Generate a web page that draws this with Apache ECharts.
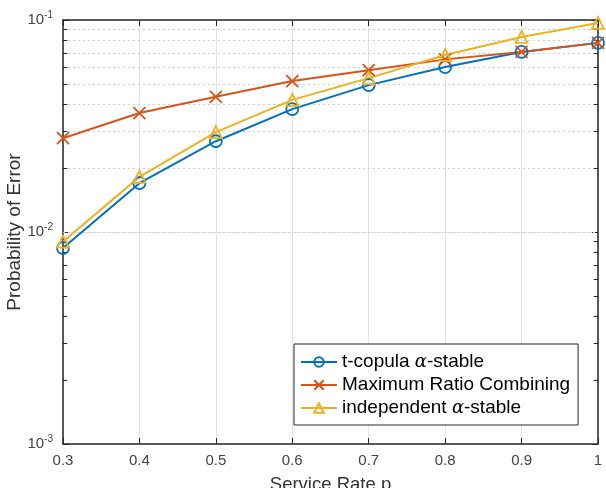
<!DOCTYPE html>
<html>
<head>
<meta charset="utf-8">
<script src="https://cdn.jsdelivr.net/npm/echarts@6/dist/echarts.min.js"></script>
<style>
  html, body { margin: 0; padding: 0; background: #fff; }
  #chart { width: 606px; height: 488px; }
</style>
</head>
<body>
<div id="chart"></div>
<script>
const serviceRate = [0.3, 0.4, 0.5, 0.6, 0.7, 0.8, 0.9, 1.0];
const tCopula = [0.0084, 0.0170, 0.0268, 0.0380, 0.0493, 0.0600, 0.0707, 0.0780];
const mrc = [0.0277, 0.0364, 0.0434, 0.0515, 0.0580, 0.0652, 0.0707, 0.0780];
const independent = [0.0090, 0.0182, 0.0296, 0.0420, 0.0532, 0.0684, 0.0832, 0.0969];
const minorValues = [0.002, 0.003, 0.004, 0.005, 0.006, 0.007, 0.008, 0.009,
                     0.02, 0.03, 0.04, 0.05, 0.06, 0.07, 0.08, 0.09];
const seriesNames = ['t-copula α-stable', 'Maximum Ratio Combining', 'independent α-stable'];

const chart = echarts.init(document.getElementById('chart'));
const font = 'Liberation Sans, Arial, sans-serif';
const axisColor = '#262626';

function pairs(ys) {
    return serviceRate.map((x, i) => [x, ys[i]]);
}

function mkSeries(name, ys, color, symbol) {
    return {
        name: name,
        type: 'line',
        data: pairs(ys),
        symbol: symbol,
        symbolSize: 12,
        z: 5,
        lineStyle: { color: color, width: 2 },
        itemStyle: { color: 'rgba(255,255,255,0)', borderColor: color, borderWidth: 1.8 },
        emphasis: { disabled: true }
    };
}

const option = {
    animation: false,
    grid: { left: 63, right: 8, top: 20, bottom: 44, containLabel: false, outerBoundsMode: 'none' },
    legend: {
        data: seriesNames,
        orient: 'vertical',
        left: 294,
        top: 344,
        padding: [7, 8, 6, 6],
        itemGap: 1,
        itemWidth: 36,
        itemHeight: 12,
        backgroundColor: '#fff',
        borderColor: axisColor,
        borderWidth: 1,
        selectedMode: false,
        formatter: name => name.replace('α', '{a|α}'),
        textStyle: {
            fontFamily: font,
            fontSize: 19,
            color: '#000',
            lineHeight: 22,
            rich: {
                a: { fontFamily: 'DejaVu Serif, serif', fontStyle: 'italic', fontSize: 18, color: '#000' }
            }
        }
    },
    xAxis: [{
        type: 'value',
        min: 0.3,
        max: 1,
        interval: 0.1,
        name: 'Service Rate p',
        nameLocation: 'middle',
        nameGap: 31,
        nameMoveOverlap: false,
        nameTextStyle: { fontFamily: font, fontSize: 18.5, color: '#333' },
        axisLine: { onZero: false, lineStyle: { color: axisColor, width: 1.5 } },
        axisTick: { inside: true, length: 6, lineStyle: { color: axisColor } },
        axisLabel: { fontFamily: font, fontSize: 15, color: '#444', margin: 9,
                     formatter: v => String(Math.round(v * 10) / 10) },
        splitLine: { show: true, lineStyle: { color: '#e3e3e3', width: 1 } }
    }, {
        type: 'value',
        position: 'top',
        min: 0.3,
        max: 1,
        interval: 0.1,
        axisLine: { onZero: false, lineStyle: { color: axisColor, width: 1.5 } },
        axisTick: { inside: true, length: 6, lineStyle: { color: axisColor } },
        axisLabel: { show: false },
        splitLine: { show: false }
    }],
    yAxis: [{
        type: 'log',
        logBase: 10,
        min: 0.001,
        max: 0.1,
        name: 'Probability of Error',
        nameLocation: 'middle',
        nameGap: 39,
        nameMoveOverlap: false,
        nameTextStyle: { fontFamily: font, fontSize: 19, color: '#333' },
        axisLine: { onZero: false, lineStyle: { color: axisColor, width: 1.5 } },
        axisTick: { inside: true, length: 6, lineStyle: { color: axisColor } },
        axisLabel: {
            margin: 10,
            formatter: v => '{b|10}{s|' + Math.round(Math.log10(v)) + '}',
            rich: {
                b: { fontFamily: font, fontSize: 15, color: '#444', lineHeight: 20 },
                s: { fontFamily: font, fontSize: 10, color: '#444', verticalAlign: 'top', lineHeight: 20 }
            }
        },
        splitLine: { show: true, lineStyle: { color: '#e3e3e3', width: 1 } }
    }, {
        type: 'log',
        logBase: 10,
        min: 0.001,
        max: 0.1,
        position: 'right',
        axisLine: { onZero: false, lineStyle: { color: axisColor, width: 1.5 } },
        axisTick: { inside: true, length: 6, lineStyle: { color: axisColor } },
        axisLabel: { show: false },
        splitLine: { show: false }
    }],
    series: [
        {
            name: 'minorGrid',
            type: 'line',
            data: [],
            z: 1,
            markLine: {
                silent: true,
                symbol: 'none',
                label: { show: false },
                animation: false,
                lineStyle: { color: '#cfcfcf', type: [2, 3], width: 1 },
                data: minorValues.map(v => ({ yAxis: v }))
            }
        },
        {
            name: 'minorTicks',
            type: 'line',
            data: [],
            z: 2,
            markLine: {
                silent: true,
                symbol: 'none',
                label: { show: false },
                animation: false,
                lineStyle: { color: axisColor, type: 'solid', width: 1 },
                data: minorValues.map(v => [{ coord: [0.3, v] }, { coord: [0.3055, v] }])
                    .concat(minorValues.map(v => [{ coord: [0.9945, v] }, { coord: [1, v] }]))
            }
        },
        mkSeries(seriesNames[0], tCopula, '#0072BD', 'circle'),
        mkSeries(seriesNames[1], mrc, '#D95319', 'path://M0,0L10,10M10,0L0,10'),
        mkSeries(seriesNames[2], independent, '#EDB120', 'triangle')
    ]
};

chart.setOption(option);
</script>
</body>
</html>
